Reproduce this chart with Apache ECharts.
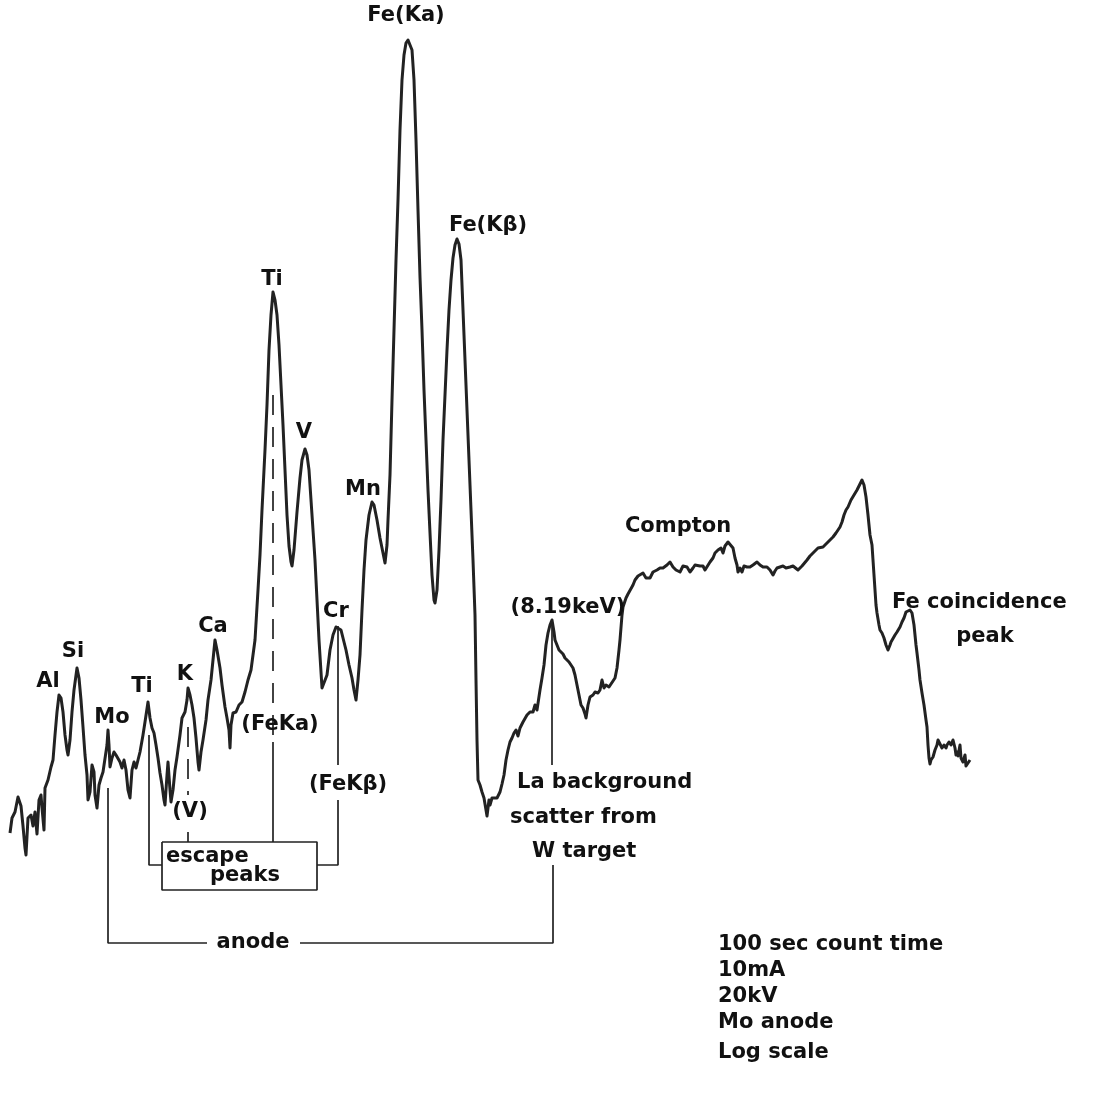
<!DOCTYPE html>
<html>
<head>
<meta charset="utf-8">
<script src="https://cdn.jsdelivr.net/npm/echarts@6/dist/echarts.min.js"></script>
<style>
html,body{margin:0;padding:0;background:#fff;}
#chart{width:1109px;height:1097px;}
</style>
</head>
<body>
<div id="chart"></div>
<script>
// Spectrum: channel (energy, arbitrary units) and log-count level (arbitrary units)
const spectrum = [
[10,167],[12,182],[15,188],[18,203],[21,194],[23,174],[25,152],[26,145],[28,182],[31,185],[33,174],[35,188],[37,166],[39,200],[41,205],[42,192],[44,170],[45,212],[48,220],[51,233],[53,240],[55,265],[57,288],[59,305],[61,302],[63,288],[65,265],[67,250],[68,245],[70,260],[72,288],[74,310],[77,332],[79,322],[81,300],[83,273],[85,245],[87,225],[88,200],[90,208],[92,235],[94,228],[95,205],[97,192],[99,215],[101,222],[103,228],[105,230],[107,255],[108,270],[109,255],[110,233],[112,242],[114,248],[116,245],[118,247],[120,238],[122,232],[124,240],[126,230],[128,210],[130,202],[132,230],[134,238],[136,232],[138,240],[140,248],[143,265],[145,278],[148,298],[150,282],[152,272],[154,267],[156,255],[158,242],[160,227],[162,215],[164,200],[165,195],[167,225],[168,238],[170,210],[171,198],[173,210],[175,230],[177,243],[180,265],[182,282],[185,288],[187,300],[188,312],[190,305],[192,295],[194,282],[196,262],[198,238],[199,230],[201,248],[203,260],[206,280],[208,300],[211,320],[213,340],[215,360],[217,350],[220,332],[222,315],[225,293],[227,282],[229,270],[230,252],[231,275],[233,287],[236,288],[239,295],[242,298],[245,308],[248,320],[251,330],[253,345],[255,360],[258,410],[260,445],[262,490],[265,550],[267,595],[269,650],[271,685],[273,708],[275,700],[277,685],[279,655],[281,615],[283,575],[285,530],[287,485],[289,454],[291,438],[292,434],[294,450],[297,488],[300,522],[302,540],[305,551],[307,545],[309,530],[311,500],[313,470],[315,440],[317,400],[319,360],[321,328],[322,312],[324,310],[327,325],[330,350],[333,365],[336,373],[338,374],[341,370],[343,362],[346,350],[349,335],[352,322],[354,310],[356,300],[358,320],[360,345],[362,390],[364,430],[366,460],[369,485],[372,498],[374,495],[377,480],[380,462],[382,452],[385,437],[387,455],[388,480],[390,525],[392,600],[394,670],[396,740],[398,800],[400,870],[402,920],[404,945],[406,957],[408,960],[410,958],[412,950],[414,920],[416,860],[418,790],[420,723],[422,670],[424,610],[426,560],[428,510],[430,467],[432,425],[434,400],[435,397],[437,410],[439,450],[441,500],[443,560],[445,605],[447,650],[449,690],[451,720],[453,742],[455,755],[457,761],[459,756],[461,740],[463,690],[465,640],[467,590],[469,540],[471,490],[473,440],[475,385],[476,320],[477,260],[478,220],[480,215],[482,208],[484,202],[486,190],[487,184],[488,183],[489,200],[490,195],[492,202],[494,200],[497,202],[500,208],[502,216],[504,225],[506,240],[508,250],[510,258],[512,262],[514,267],[516,270],[518,264],[520,272],[523,278],[525,280],[527,285],[530,288],[533,288],[535,295],[537,290],[540,310],[542,322],[544,335],[546,355],[548,367],[550,375],[552,380],[554,368],[555,360],[557,355],[559,350],[561,348],[563,346],[565,342],[567,342],[569,338],[571,335],[573,332],[575,325],[577,315],[579,305],[581,295],[583,292],[585,286],[586,282],[588,295],[590,303],[593,305],[595,308],[598,307],[600,310],[602,320],[604,312],[606,315],[609,313],[611,316],[613,317],[615,322],[617,332],[619,350],[620,360],[622,385],[623,393],[626,402],[628,406],[630,408],[633,415],[635,420],[638,424],[640,423],[643,427],[646,422],[648,424],[650,422],[653,428],[655,427],[657,430],[660,432],[663,432],[667,435],[670,438],[673,433],[676,430],[678,432],[680,428],[683,434],[685,432],[687,433],[690,428],[693,432],[695,435],[697,437],[700,434],[703,434],[705,430],[707,432],[710,438],[713,442],[715,447],[718,450],[721,452],[723,447],[725,454],[728,458],[730,456],[733,452],[735,442],[737,435],[738,428],[740,432],[742,428],[744,434],[747,433],[750,433],[753,435],[755,437],[757,438],[760,435],[763,433],[765,432],[767,433],[770,430],[773,425],[775,429],[777,432],[780,433],[783,434],[786,432],[788,433],[790,433],[793,434],[795,432],[798,430],[800,430],[802,434],[804,436],[807,440],[810,444],[813,447],[815,446],[818,452],[820,452],[823,453],[826,456],[828,458],[830,460],[833,463],[836,467],[838,470],[840,473],[842,478],[844,485],[846,490],[848,493],[851,500],[854,505],[857,510],[860,516],[862,520],[864,515],[866,503],[868,485],[870,465],[872,455],[874,425],[876,395],[877,387],[879,375],[880,370],[882,367],[884,362],[886,355],[888,350],[890,355],[891,358],[893,360],[895,365],[897,368],[900,373],[902,378],[904,382],[906,388],[908,390],[910,390],[912,387],[914,375],[916,355],[917,347],[919,330],[920,320],[922,307],[924,295],[926,280],[927,273],[928,255],[929,242],[930,236],[931,240],[933,243],[935,250],[937,255],[938,260],[940,258],[942,252],[944,255],[946,252],[947,255],[949,258],[951,255],[953,260],[955,252],[956,245],[957,248],[958,244],[960,255],[961,242],[963,238],[965,245],[966,234],[968,237],[970,240]
];
const channel = spectrum.map(p => p[0]);
const level = spectrum.map(p => p[1]);

// Peak / feature labels: [text, channel, level]
const peakLabels = [
  ['Al', 48, 318], ['Si', 73, 348], ['Mo', 112, 282], ['Ti', 142, 313], ['K', 185, 325],
  ['Ca', 213, 373], ['(FeKa)', 280, 275], ['Ti', 272, 720], ['V', 304, 567], ['Mn', 363, 510],
  ['Cr', 336, 388], ['Fe(Ka)', 406, 984], ['Fe(Kβ)', 488, 774], ['(8.19keV)', 568, 392],
  ['Compton', 678, 473], ['peak', 985, 363], ['(FeKβ)', 348, 215], ['(V)', 190, 188], ['anode', 253, 57]
];
// Left-aligned annotation text: [text, channel, level]
const noteLabels = [
  ['Fe coincidence', 892, 397], ['escape', 166, 143], ['peaks', 210, 124],
  ['La background', 517, 217], ['scatter from', 510, 182], ['W target', 532, 148],
  ['100 sec count time', 718, 55], ['10mA', 718, 29], ['20kV', 718, 3], ['Mo anode', 718, -23], ['Log scale', 718, -53]
];
// Leader / bracket lines (solid), in channel / level units
const solidLeaders = [
  [[108, 212], [108, 57], [207, 57]],
  [[300, 57], [553, 57], [553, 135]],
  [[552, 380], [552, 235]],
  [[149, 265], [149, 135], [162, 135]],
  [[162, 158], [317, 158], [317, 110], [162, 110], [162, 158]],
  [[188, 168], [188, 158]],
  [[273, 258], [273, 158]],
  [[338, 374], [338, 235]],
  [[338, 200], [338, 135], [317, 135]]
];
// Dashed leader lines
const dashedLeaders = [
  [[273, 605], [273, 262]],
  [[188, 273], [188, 205]]
];

const FONT = 'DejaVu Sans';
const TEXT = {fontFamily: FONT, fontSize: 21, fontWeight: 'bold', color: '#111111', opacity: 1,
  textBorderWidth: 0, textBorderColor: 'transparent', textShadowBlur: 0};
const chart = echarts.init(document.getElementById('chart'), null, {renderer: 'canvas'});
const series = [];
series.push({
  type: 'line', name: 'spectrum',
  data: channel.map((c, i) => [c, level[i]]),
  showSymbol: false, symbol: 'none', smooth: false,
  lineStyle: {color: '#222222', width: 3, join: 'round', opacity: 1},
  z: 5, silent: true, animation: false
});
solidLeaders.forEach(seg => series.push({
  type: 'line', data: seg, showSymbol: false, symbol: 'none',
  lineStyle: {color: '#222222', width: 1.7, opacity: 1}, silent: true, animation: false, z: 3
}));
dashedLeaders.forEach(seg => series.push({
  type: 'line', data: seg, showSymbol: false, symbol: 'none',
  lineStyle: {color: '#222222', width: 1.7, type: [20, 12], opacity: 1}, silent: true, animation: false, z: 3
}));
series.push({
  type: 'scatter', symbolSize: 0, silent: true, animation: false, z: 10,
  itemStyle: {color: '#111111', opacity: 1},
  data: peakLabels.map(l => ({name: l[0], value: [l[1], l[2]]})),
  label: Object.assign({show: true, position: 'inside', formatter: p => p.name}, TEXT)
});
series.push({
  type: 'scatter', symbolSize: 0, silent: true, animation: false, z: 10,
  itemStyle: {color: '#111111', opacity: 1},
  data: noteLabels.map(l => ({name: l[0], value: [l[1], l[2]]})),
  label: Object.assign({show: true, position: 'inside', align: 'left', formatter: p => p.name}, TEXT)
});

chart.setOption({
  backgroundColor: '#ffffff',
  animation: false,
  grid: {left: 0, right: 0, top: 0, bottom: 0},
  xAxis: {type: 'value', min: 0, max: 1109, show: false},
  yAxis: {type: 'value', min: -97, max: 1000, show: false},
  series: series
});
</script>
</body>
</html>
